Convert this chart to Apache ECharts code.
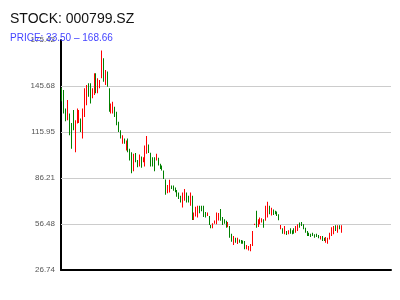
<!DOCTYPE html>
<html>
<head>
<meta charset="utf-8">
<script src="https://cdn.jsdelivr.net/npm/echarts@6/dist/echarts.min.js"></script>
<style>html,body{margin:0;padding:0;background:#fff}#c{width:400px;height:300px}</style>
</head>
<body>
<div id="c"></div>
<script>
var titleText = 'STOCK: 000799.SZ';
var subText = 'PRICE: 33.50 – 168.66';
var yMin = 26.74, yMax = 175.42;
var categoryCount = 175;
var opens = [144,142,130,125,127,121,129,105,122,122.5,124,113,127,134,147,146,138,141,153,142,144.5,151,163,147,154,144,128.5,129,132,128.5,122,116.5,109,111.5,104.5,111,105,102,92,102,97.5,94,99.5,96.8,94.5,103,107.5,102,99,99,98,99,95,94,90.5,85,77,77.5,81,81,79.8,78,76.5,74.5,68,72,76.5,74.5,69,74,59.5,62,61,68,68,67.5,64,62,61.5,55.8,54,56.8,57,59,65.5,60.5,59.2,58,54.8,55,50,43.5,47.4,44,46.3,45.9,45.5,45.3,40.3,39.7,39.2,42.5,55.9,64,55,56.6,57.6,59.4,59,61,68,62.5,65.5,64.8,64.3,62.5,53.4,53.5,50.2,51.7,50,53.5,52.2,53.5,51.2,52.3,57.2,57.6,56,53.9,51.7,50.7,50,50.7,49.6,50,49.2,46.8,48.5,47.4,44.7,44,46.8,49,50.2,55.4,51.2,55.4,51.2];
var closes = [138,130,124,135,116,107,118,122,130,129,117,130,143,145,139.5,136,143.5,152,142,150,149,166,149.5,155,146,130,134,135,126.5,121,117,112.5,113,109,110,104,98.5,91,101,97,94,100.5,93.5,99.2,106,112.5,103,94.5,94.2,91.5,101.5,95,92.6,91.5,86,76.5,81,84,79.5,78.5,77.5,74.8,73,71,76,78.5,71,71,76.5,60,63.5,67,67.5,64,65,61.5,61,63.5,56.5,54,56.5,58.5,63.5,63,59,56.5,57,54.5,57.5,48,45.5,48.3,44.8,47.2,44.6,44,44,40.5,42.6,42,43.3,51.5,56.5,55,59,60.2,60,56,67.5,70.5,63.3,66.7,62.7,63,62,59.3,55.6,50.6,54.8,49.6,52.2,50.5,50,50.5,55,56,54.4,55.4,53.4,51.2,49,49,48.4,49,47.9,48.4,47.5,48.5,45.8,45.8,47.8,47.3,50.6,54,54.8,52.2,55.4,53.4,55.4];
var lows = [135.9,127.9,122.9,123.5,113.8,105.1,117,102.9,121.4,121.8,116,111.7,125.7,133.3,138.7,134.4,137.7,139.8,141,141,144.2,150.7,148.5,146.3,145.2,129,127.9,127.9,125.7,120.3,116,111.7,108.4,108.4,104,102.9,97.5,89.3,90.6,96.4,93.2,93.6,92.8,96.4,93.6,101.9,102.3,93.6,93.6,90.6,97.5,94.3,92.1,91,85.6,75.4,76.3,76.9,79.1,77.9,77,74.1,72.6,70.4,67.2,71.5,70.4,70.4,68.3,59.1,59.1,61.4,60.6,63.4,64.7,61,60.6,61.7,55.9,53.7,53.7,56.6,56.3,58.8,58.5,55.9,56.6,54.1,54.4,47.6,45,42.9,44.4,43.6,44.4,43.7,43.7,40.1,40.1,39.4,38.9,42.2,55.9,54.1,54.6,56.3,57.4,54.1,58.5,60.6,62.8,62,62.3,62.8,61.7,58.9,53.1,50.2,49.8,49.3,49.8,50.2,49.8,50.2,50.9,52,54.1,55.2,53.1,50.9,48.7,48.7,48.1,48.7,47.6,48.1,47.2,46.5,45.5,45.5,44.4,43.7,46.5,48.7,49.8,51.9,50.9,53.1,50.9];
var highs = [144.6,143.1,131.2,136.6,127.9,121.8,130.1,123.5,131.2,130.1,124.7,131.2,144.2,146.3,147.4,147.4,144.2,153.9,153.9,150.7,149.6,168.66,163.7,156.1,155,144.2,134.4,135.5,132.2,129,122.5,117,113.8,111.7,110.5,111.7,105.1,102.9,101.9,102.3,97.9,101.4,100.1,99.7,107.2,113.4,107.9,102.5,99.7,99.7,101.9,99.3,95.4,94.3,91,85.2,81.7,85,81.3,81.3,80,78.4,76.9,74.7,76.9,79.1,76.9,74.7,76.9,74.7,63.9,67.7,68.2,68.2,68.2,68.2,64.3,63.9,61.7,55.9,57,58.8,63.9,63.6,66.1,61,59.5,58.5,57.8,55.2,50.2,48.7,47.6,47.6,46.5,46.1,45.8,45.5,42.9,42.2,43.6,51.9,56.6,65,59.6,60.6,60.2,59.6,68.2,70.9,68.2,67,65.8,65,64.5,62.8,55.9,53.7,55.2,51.9,52.4,53.7,52.4,53.7,55.2,56.3,57.4,57.8,56.3,54.1,51.9,50.9,50.2,50.9,49.8,50.2,49.4,48.7,48.7,47.6,48.1,47.6,50.9,54.4,55.2,55.6,55.6,55.6,55.6];

var categories = [];
for (var i = 0; i < categoryCount; i++) categories.push(String(i + 1));
var candles = opens.map(function (o, i) { return [i, o, closes[i], lows[i], highs[i]]; });
var step = (yMax - yMin) / 5;
var gridValues = [1, 2, 3, 4].map(function (k) { return {yAxis: yMin + k * step}; });
var upColor = '#ff0000', downColor = '#008000';

function renderCandle(params, api) {
  var idx = api.value(0), o = api.value(1), c = api.value(2), l = api.value(3), h = api.value(4);
  var pH = api.coord([idx, h]);
  var pL = api.coord([idx, l]);
  var x = Math.floor(pH[0]);
  return {
    type: 'rect',
    shape: {x: x, y: pH[1], width: 1, height: Math.max(1, pL[1] - pH[1])},
    style: {fill: c >= o ? upColor : downColor}
  };
}

var chart = echarts.init(document.getElementById('c'), null, {renderer: 'canvas'});
chart.setOption({
  animation: false,
  backgroundColor: '#fff',
  title: [
    {text: titleText, left: 10, top: 12, padding: 0, textStyle: {fontSize: 14, fontWeight: 'normal', color: '#111', fontFamily: 'Liberation Sans, Arial, sans-serif'}},
    {text: subText, left: 10, top: 33, padding: 0, textStyle: {fontSize: 10, fontWeight: 'normal', color: '#4444ff', fontFamily: 'Liberation Sans, Arial, sans-serif'}}
  ],
  grid: {left: 61, right: 9, top: 40, bottom: 30, containLabel: false},
  xAxis: {
    type: 'category', data: categories, boundaryGap: true,
    axisLine: {show: true, lineStyle: {color: '#000', width: 2}},
    axisTick: {show: false}, axisLabel: {show: false}, splitLine: {show: false}
  },
  yAxis: {
    type: 'value', min: yMin, max: yMax, interval: step, scale: true,
    axisLine: {show: true, lineStyle: {color: '#000', width: 2}},
    axisTick: {show: false},
    axisLabel: {fontSize: 8, color: '#555', margin: 6, fontFamily: 'Liberation Sans, Arial, sans-serif',
      formatter: function (v) { return v.toFixed(2); }},
    splitLine: {show: false}
  },
  series: [{
    type: 'custom', data: candles, renderItem: renderCandle, z: 3,
    encode: {x: 0, y: [1, 2, 3, 4]},
    markLine: {silent: true, symbol: 'none', z: 1, label: {show: false}, animation: false,
      lineStyle: {color: '#ccc', width: 1, type: 'solid'}, emphasis: {disabled: true}, data: gridValues}
  }]
});
</script>
</body>
</html>
